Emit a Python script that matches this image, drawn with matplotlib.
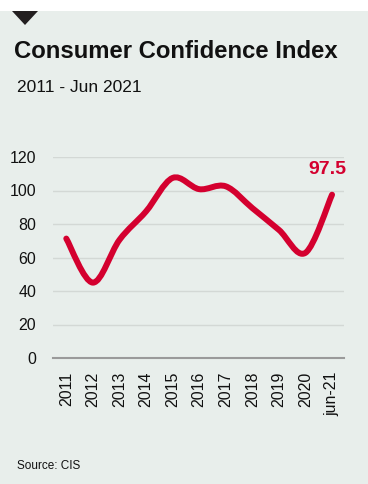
import matplotlib.pyplot as plt
from matplotlib.path import Path
from matplotlib.patches import PathPatch, Polygon, Rectangle
import numpy as np

# consumer confidence index, yearly + june 2021
years = ["2011", "2012", "2013", "2014", "2015", "2016", "2017", "2018", "2019", "2020", "jun-21"]
index_vals = [71.3, 45.0, 70.5, 87.5, 107.5, 100.8, 102.5, 89.5, 76.5, 62.8, 97.5]

BG = "#e8eeeb"
RED = "#d4002f"
W, H = 368, 484

plt.rcParams["font.family"] = ["Liberation Sans", "DejaVu Sans"]

fig = plt.figure(figsize=(W / 100, H / 100), dpi=100, facecolor=BG)

# white strip along the top and the little marker triangle
fig.patches.append(Rectangle((0, 1 - 11 / H), 1, 11 / H, transform=fig.transFigure,
                             facecolor="white", edgecolor="none", zorder=0))
tri = [(12 / W, 1 - 11 / H), (38 / W, 1 - 11 / H), (25 / W, 1 - 25 / H)]
fig.patches.append(Polygon(tri, closed=True, transform=fig.transFigure,
                           facecolor="#231f20", edgecolor="none", zorder=1))

fig.text(14 / W, 1 - 58 / H, "Consumer Confidence Index", fontsize=17.2, fontweight="bold",
         color="#111111", ha="left", va="baseline")
fig.text(17 / W, 1 - 92 / H, "2011 - Jun 2021", fontsize=12.5, color="#111111",
         ha="left", va="baseline")
fig.text(17 / W, 1 - 469 / H, "Source: CIS", fontsize=8.5, color="#111111",
         ha="left", va="baseline")

ax = fig.add_axes([53 / W, 1 - 358 / H, (344 - 53) / W, (358 - 157) / H])
ax.set_facecolor(BG)

x = np.arange(len(years), dtype=float)
y = np.array(index_vals)

# smooth curve through the points (catmull-rom as cubic beziers)
px = np.concatenate([[x[0]], x, [x[-1]]])
py = np.concatenate([[y[0]], y, [y[-1]]])
verts = [(x[0], y[0])]
codes = [Path.MOVETO]
for i in range(1, len(px) - 2):
    c1 = (px[i] + (px[i + 1] - px[i - 1]) / 6, py[i] + (py[i + 1] - py[i - 1]) / 6)
    c2 = (px[i + 1] - (px[i + 2] - px[i]) / 6, py[i + 1] - (py[i + 2] - py[i]) / 6)
    verts += [c1, c2, (px[i + 1], py[i + 1])]
    codes += [Path.CURVE4] * 3
ax.add_patch(PathPatch(Path(verts, codes), fill=False, edgecolor=RED, linewidth=4.3,
                       capstyle="round", joinstyle="round", zorder=3))

# value label for the latest reading
ax.annotate(f"{index_vals[-1]:g}", (x[-1], y[-1]), xytext=(-3.5, 15), textcoords="offset points",
            ha="center", va="baseline", fontsize=14, fontweight="bold", color=RED,
            annotation_clip=False)

ax.set_xlim(-0.5, 10.45)
ax.set_ylim(0, 120)
ax.set_yticks(range(0, 121, 20))
ax.set_xticks(x)
ax.set_xticklabels(years, rotation=90)
ax.tick_params(axis="both", length=0, labelsize=11.5, colors="#111111")
ax.tick_params(axis="y", pad=12)
ax.tick_params(axis="x", pad=10)
ax.grid(axis="y", color="#d3d8d5", linewidth=1)
ax.set_axisbelow(True)
for s in ["top", "right", "left"]:
    ax.spines[s].set_visible(False)
ax.spines["bottom"].set_color("#9a9a9a")
ax.spines["bottom"].set_linewidth(1.5)

fig.savefig("out.png", dpi=100, facecolor=BG)
